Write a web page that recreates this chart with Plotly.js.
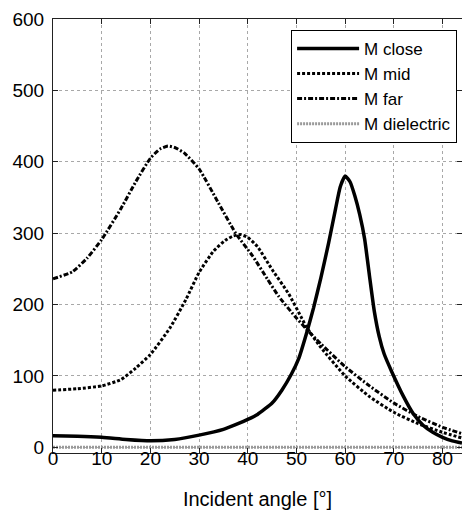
<!DOCTYPE html>
<html>
<head>
<meta charset="utf-8">
<script src="https://cdn.plot.ly/plotly-3.0.1.min.js"></script>
<style>html,body{margin:0;padding:0;background:#fff}#chart{width:462px;height:511px}</style>
</head>
<body>
<div id="chart"></div>
<script>
// Data
const seriesNames = ["M close", "M mid", "M far", "M dielectric"];

const angleClose = [0,5,10,15,20,25,30,35,38,40,42,45,47,49,50.5,52,53.5,55,56.6,58,59,60,61,62,63,64,65,66,67,68,69.5,72,74,76,78,80,82,84];
const mClose     = [16,15.5,14,11,9,11,17,25,33,39,46,62,80,103,125,158,195,237,286,333,365,380,372,352,326,292,240,190,155,131,107,71,47,31,21,14,9,6];

const angleMid = [0,5,10,14,17,20,24,27.3,30,33,35.4,37,38.5,40,42,45,48.4,51,52,55,60,65,70,75,80,84];
const mMid     = [80,82,86,95,111,130,167,207,245,275,290,296,298,294,281,249,215,182,169,140,100,71,49,33,21,13];

const angleFar = [0,4,7,10,14,17,20,22,23.6,25,27,30,34,37.5,41,44,46.4,50,52,55,60,65,70,75,80,84];
const mFar     = [236,246,265,291,335,372,405,418,422,420,412,390,342,300,268,236,211,181,166,145,113,86,62,43,28,19];

const angleDiel = [0,10,20,30,40,50,60,70,80,84];
const mDiel     = [0,0,0,0,0,0,0,0,0,0];

const xTicks = [0,10,20,30,40,50,60,70,80];
const yTicks = [0,100,200,300,400,500,600];

const FONT = "Liberation Sans, Arial, sans-serif";

const traces = [
  {x: angleDiel, y: mDiel, name: seriesNames[3], mode: "lines", legendrank: 4,
   line: {color: "#9a9a9a", width: 3, dash: "2px,1px"}},
  {x: angleClose, y: mClose, name: seriesNames[0], mode: "lines", legendrank: 1,
   line: {color: "#000", width: 3.5, shape: "spline", smoothing: 0.5}},
  {x: angleMid, y: mMid, name: seriesNames[1], mode: "lines", legendrank: 2,
   line: {color: "#000", width: 3, dash: "3px,2px", shape: "spline", smoothing: 0.5}},
  {x: angleFar, y: mFar, name: seriesNames[2], mode: "lines", legendrank: 3,
   line: {color: "#000", width: 3, dash: "5px,2px,2px,2px", shape: "spline", smoothing: 0.5}}
];

const axisCommon = {
  showline: true, linecolor: "#222", linewidth: 1, mirror: "allticks",
  ticks: "inside", ticklen: 5, tickcolor: "#222", tickwidth: 1,
  showgrid: true, gridcolor: "#a8a8a8", gridwidth: 1, griddash: "dot",
  zeroline: false,
  tickfont: {family: FONT, size: 19, color: "#000"}
};

const layout = {
  width: 462, height: 511,
  margin: {l: 53, r: 0, t: 19, b: 58},
  paper_bgcolor: "#fff", plot_bgcolor: "#fff",
  showlegend: true,
  legend: {
    x: 0.988, y: 0.975, xanchor: "right", yanchor: "top",
    bgcolor: "#fff", bordercolor: "#000", borderwidth: 1,
    font: {family: FONT, size: 17, color: "#000"},
    itemwidth: 62, traceorder: "normal", tracegroupgap: 0
  },
  xaxis: Object.assign({}, axisCommon, {
    range: [0, 84], tickvals: xTicks, ticktext: xTicks.map(String),
    ticklabelstandoff: -12,
    title: {text: "Incident angle [°]", font: {family: FONT, size: 20, color: "#000"}, standoff: 24}
  }),
  yaxis: Object.assign({}, axisCommon, {
    range: [-8, 600], tickvals: yTicks, ticktext: yTicks.map(String), ticklabelstandoff: 4
  })
};

Plotly.newPlot("chart", traces, layout, {staticPlot: true});
</script>
</body>
</html>
